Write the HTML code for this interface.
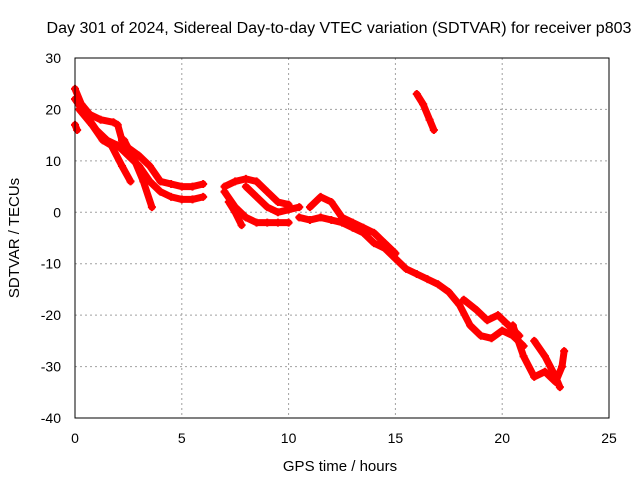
<!DOCTYPE html>
<html><head><meta charset="utf-8"><style>
body{margin:0;background:#fff}
svg{display:block;font-family:"Liberation Sans",sans-serif;font-size:14px}
</style></head><body>
<svg id="c" width="640" height="480">
<text x="339" y="33" text-anchor="middle" textLength="585" lengthAdjust="spacingAndGlyphs" style="font-size:15.5px">Day 301 of 2024, Sidereal Day-to-day VTEC variation (SDTVAR) for receiver p803</text>
<text x="340" y="471" text-anchor="middle" style="font-size:15px">GPS time / hours</text>
<text transform="translate(19,238) rotate(-90)" text-anchor="middle" style="font-size:15px">SDTVAR / TECUs</text>
<g id="grid"></g><g id="marks"></g>
<rect x="75" y="58" width="534" height="360" fill="none" stroke="#000" stroke-width="1"/>
</svg>
<script>
const xTicks=[0,5,10,15,20,25];
const yTicks=[30,20,10,0,-10,-20,-30,-40];
const tracks=[
[[0,24],[0.3,21],[0.7,19],[1.2,18],[1.8,17.5],[2.0,17],[2.2,14],[2.5,12.5],[3,11],[3.5,9],[4,6],[4.5,5.5],[5,5],[5.5,5],[6,5.5]],
[[0,22],[0.5,19],[1,16],[1.5,14],[2,13],[2.5,11],[3,9],[3.5,6],[4,4],[4.5,3],[5,2.5],[5.5,2.5],[6,3]],
[[0.2,20],[0.8,17],[1.3,14],[1.7,13],[2.2,9],[2.6,6]],
[[2.3,14],[2.8,10],[3.2,6],[3.6,1]],
[[0,17],[0.1,16]],
[[7,5],[7.5,6],[8,6.5],[8.5,6],[9,4],[9.5,2],[10,1.5]],
[[7,4],[7.5,1],[8,-1],[8.5,-2],[9,-2],[9.5,-2],[10,-2]],
[[7.2,2],[7.5,0],[7.8,-2.5]],
[[8,5],[8.5,3],[9,1],[9.5,0],[10,0.5],[10.5,1]],
[[10.5,-1],[11,-1.5],[11.5,-1],[12,-1.5],[12.5,-2],[13,-3],[13.5,-4],[14,-6],[14.5,-7],[15,-9],[15.5,-11],[16,-12],[16.5,-13],[17,-14],[17.5,-15.5],[18,-18],[18.5,-22],[19,-24],[19.5,-24.5],[20,-23],[20.5,-24],[21,-26]],
[[11,1],[11.5,3],[12,2],[12.5,-1],[13,-2],[13.5,-3],[14,-4],[14.5,-6],[15,-8]],
[[18.2,-17],[18.8,-19],[19.3,-21],[19.8,-20],[20.3,-22],[20.8,-24]],
[[20.5,-22],[21,-28],[21.5,-32],[22,-31],[22.5,-33],[22.8,-30],[22.9,-27]],
[[21.5,-25],[22,-28],[22.5,-32],[22.7,-34]],
[[16,23],[16.3,21],[16.6,18],[16.8,16]]
];
const NS="http://www.w3.org/2000/svg";
function X(v){return 75+(v-0)*534/25;}
function Y(v){return 58+(30-v)*360/70;}
const grid=document.getElementById('grid'),marks=document.getElementById('marks');
function mk(t,a,p){const e=document.createElementNS(NS,t);for(const k in a)e.setAttribute(k,a[k]);(p||grid).appendChild(e);return e;}
xTicks.forEach(v=>{
 if(v>0&&v<25){const l=mk('line',{x1:X(v),x2:X(v),y1:58,y2:418,stroke:'#a0a0a0','stroke-dasharray':'2,3'});
 
 }
 const t=mk('text',{x:X(v),y:443,'text-anchor':'middle'});t.textContent=v;
 
 
});
yTicks.forEach(v=>{
 if(v<30&&v>-40){const l=mk('line',{x1:75,x2:609,y1:Y(v),y2:Y(v),stroke:'#a0a0a0','stroke-dasharray':'2,3'});
 
 }
 const t=mk('text',{x:61,y:Y(v)+5,'text-anchor':'end'});t.textContent=v;
 
 
});
tracks.forEach((tr,i)=>{
 const pl=mk('polyline',{points:tr.map(p=>X(p[0])+','+Y(p[1])).join(' '),fill:'none',stroke:'#f00','stroke-width':7,'stroke-linejoin':'round','stroke-linecap':'round'},marks);
 
 
 tr.forEach(p=>{
  const m=mk('path',{d:`M${X(p[0])-4},${Y(p[1])}h8M${X(p[0])},${Y(p[1])-4}v8`,stroke:'#f00','stroke-width':2},marks);
  
  
 });
});
</script>
</body></html>
